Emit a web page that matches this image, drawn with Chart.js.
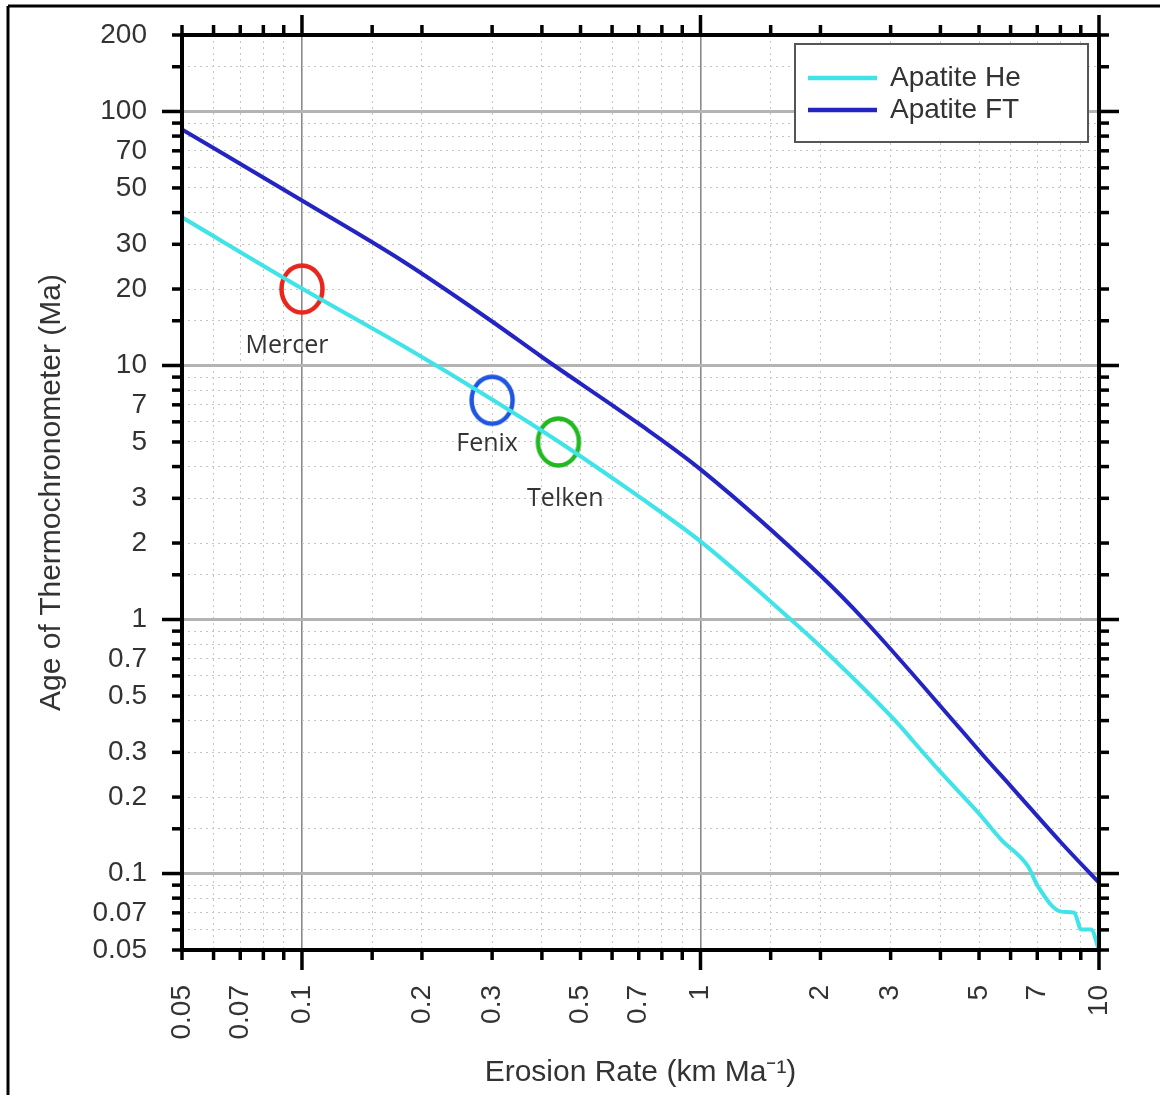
<!DOCTYPE html>
<html>
<head>
<meta charset="utf-8">
<script src="https://cdn.jsdelivr.net/npm/chart.js@4.4.1/dist/chart.umd.min.js"></script>
<style>
  html, body { margin: 0; padding: 0; background: #fff; }
  #wrap { width: 1160px; height: 1095px; }
</style>
</head>
<body>
<div id="wrap"><canvas id="chart" width="1160" height="1095"></canvas></div>
<script>
// ─── DATA ───────────────────────────────
const erosionHe = [0.05, 0.1, 0.18, 0.3, 0.44, 0.7, 1.0, 1.685, 2.0, 3.18, 3.39, 4.01, 4.97, 5.68, 6.64, 7.03, 8.04, 8.67, 9.02, 9.55, 10];
const ageHe     = [38.3, 20.1, 11.9, 7.35, 5.02, 3.05, 2.03, 1.0, 0.783, 0.379, 0.337, 0.25, 0.174, 0.136, 0.1066, 0.0889, 0.0708, 0.0701, 0.0602, 0.0602, 0.05];

const erosionFT = [0.05, 0.1, 0.18, 0.3, 0.4, 0.7, 1.0, 2.0, 2.57, 4.5, 5.15, 6.02, 8.03, 10];
const ageFT     = [85, 44.6, 25.6, 14.9, 10.8, 5.9, 3.9, 1.49, 1.0, 0.369, 0.289, 0.22, 0.1325, 0.092];

const siteNames = ['Mercer', 'Fenix', 'Telken'];
const siteRates = [0.1, 0.3, 0.44];
const siteAges  = [20, 7.3, 5.0];

const xTickLabels = ['0.05', '0.07', '0.1', '0.2', '0.3', '0.5', '0.7', '1', '2', '3', '5', '7', '10'];
const yTickLabels = ['0.05', '0.07', '0.1', '0.2', '0.3', '0.5', '0.7', '1', '2', '3', '5', '7',
                     '10', '20', '30', '50', '70', '100', '200'];

// ─── STYLE ──────────────────────────────
const FONT = '"Liberation Sans", Arial, sans-serif';
const TEXT = '#333';
const siteColors  = ['#e8261c', '#1f56e0', '#22b822'];
const siteOffsets = [[-15, 57], [-5, 44], [7, 57]];   // label offset from marker, px

Chart.defaults.font.family = FONT;

const isDecade = v => Math.abs(Math.log10(v) - Math.round(Math.log10(v))) < 1e-6;
const labelFor = (v, list) => list.find(s => Math.abs(Number(s) - v) / v < 1e-6) || '';

// no extra edge padding from tick labels: plot box is fixed by layout padding
const fixPadding = s => { s.paddingLeft = 0; s.paddingRight = 0; s.paddingTop = 0; s.paddingBottom = 0; };

// ellipse ring used as point style
function ring(color) {
  const c = document.createElement('canvas');
  c.width = 54; c.height = 58;
  const g = c.getContext('2d');
  g.strokeStyle = color;
  g.lineWidth = 4.5;
  g.beginPath();
  g.ellipse(27, 29, 20.5, 23.5, 0, 0, Math.PI * 2);
  g.stroke();
  return c;
}

// ─── FRAME / TICKS / LEGEND / LABELS ────
const framePlugin = {
  id: 'frame',
  afterDraw(chart) {
    const { ctx, chartArea: a, scales: { x, y } } = chart;
    const line = (x1, y1, x2, y2) => { ctx.beginPath(); ctx.moveTo(x1, y1); ctx.lineTo(x2, y2); ctx.stroke(); };
    ctx.save();

    // outer picture frame (left + top)
    ctx.strokeStyle = '#000';
    ctx.lineWidth = 3;
    line(8, chart.height, 8, 6);
    line(8, 6, chart.width, 6);

    // tick marks on all four sides
    ctx.lineWidth = 3.5;
    x.ticks.forEach(t => {
      const px = x.getPixelForValue(t.value);
      const len = isDecade(t.value) ? 20 : 10;
      line(px, a.bottom, px, a.bottom + len);
      line(px, a.top, px, a.top - len);
    });
    y.ticks.forEach(t => {
      const py = y.getPixelForValue(t.value);
      const len = isDecade(t.value) ? 20 : 10;
      line(a.left, py, a.left - len, py);
      line(a.right, py, a.right + len, py);
    });

    // plot border
    ctx.lineWidth = 4;
    ctx.strokeRect(a.left, a.top, a.right - a.left, a.bottom - a.top);

    // legend box
    const bx = a.right - 304, by = a.top + 9, bw = 293, bh = 98;
    ctx.fillStyle = '#fff';
    ctx.fillRect(bx, by, bw, bh);
    ctx.strokeStyle = '#555';
    ctx.lineWidth = 2;
    ctx.strokeRect(bx, by, bw, bh);
    ctx.font = '28px ' + FONT;
    ctx.textBaseline = 'middle';
    ctx.textAlign = 'left';
    chart.data.datasets.slice(0, 2).forEach((ds, i) => {
      const ly = by + 34 + i * 32;
      ctx.strokeStyle = ds.borderColor;
      ctx.lineWidth = 4.5;
      line(bx + 13, ly, bx + 82, ly);
      ctx.fillStyle = TEXT;
      ctx.fillText(ds.label, bx + 95, ly);
    });

    // site labels
    ctx.font = '25px "Open Sans", "Noto Sans", sans-serif';
    ctx.textAlign = 'center';
    ctx.fillStyle = TEXT;
    siteNames.forEach((name, i) => {
      const px = x.getPixelForValue(siteRates[i]);
      const py = y.getPixelForValue(siteAges[i]);
      ctx.fillText(name, px + siteOffsets[i][0], py + siteOffsets[i][1]);
    });

    ctx.restore();
  }
};

// ─── CHART ──────────────────────────────
new Chart(document.getElementById('chart'), {
  type: 'line',
  data: {
    datasets: [
      {
        label: 'Apatite He',
        data: erosionHe.map((v, i) => ({ x: v, y: ageHe[i] })),
        borderColor: '#3fe3e8',
        borderWidth: 4,
        pointRadius: 0,
        cubicInterpolationMode: 'monotone'
      },
      {
        label: 'Apatite FT',
        data: erosionFT.map((v, i) => ({ x: v, y: ageFT[i] })),
        borderColor: '#2424c2',
        borderWidth: 4,
        pointRadius: 0,
        cubicInterpolationMode: 'monotone'
      },
      {
        label: 'Sites',
        data: siteRates.map((v, i) => ({ x: v, y: siteAges[i] })),
        showLine: false,
        pointStyle: siteColors.map(ring),
        pointRadius: 24
      }
    ]
  },
  options: {
    responsive: false,
    animation: false,
    layout: { padding: { left: 0, right: 61, top: 35, bottom: 0 } },
    plugins: {
      legend: { display: false },
      tooltip: { enabled: false }
    },
    scales: {
      x: {
        type: 'logarithmic',
        min: 0.05,
        max: 10,
        afterFit: s => { s.height = 145; fixPadding(s); },
        grid: {
          drawTicks: false,
          color: c => isDecade(c.tick.value) ? '#8a8a8a' : '#c4c4c4',
          lineWidth: c => isDecade(c.tick.value) ? 1.6 : 1
        },
        border: { display: false, dash: c => isDecade(c.tick.value) ? [] : [2, 4] },
        ticks: {
          autoSkip: false,
          minRotation: 90,
          maxRotation: 90,
          padding: 35,
          color: TEXT,
          font: { size: 28 },
          callback: v => labelFor(v, xTickLabels)
        },
        title: {
          display: true,
          text: 'Erosion Rate (km Ma⁻¹)',
          color: TEXT,
          font: { size: 30 },
          padding: { top: 0, bottom: 4 }
        }
      },
      y: {
        type: 'logarithmic',
        min: 0.05,
        max: 200,
        afterFit: s => { s.width = 182; fixPadding(s); },
        grid: {
          drawTicks: false,
          color: c => isDecade(c.tick.value) ? '#b4b4b4' : '#c4c4c4',
          lineWidth: c => isDecade(c.tick.value) ? 3 : 1
        },
        border: { display: false, dash: c => isDecade(c.tick.value) ? [] : [2, 4] },
        ticks: {
          autoSkip: false,
          padding: 35,
          color: TEXT,
          font: { size: 28 },
          callback: v => labelFor(v, yTickLabels)
        },
        title: {
          display: true,
          text: 'Age of Thermochronometer (Ma)',
          color: TEXT,
          font: { size: 30 },
          padding: { top: 34, bottom: 0 }
        }
      }
    }
  },
  plugins: [framePlugin]
});
</script>
</body>
</html>
